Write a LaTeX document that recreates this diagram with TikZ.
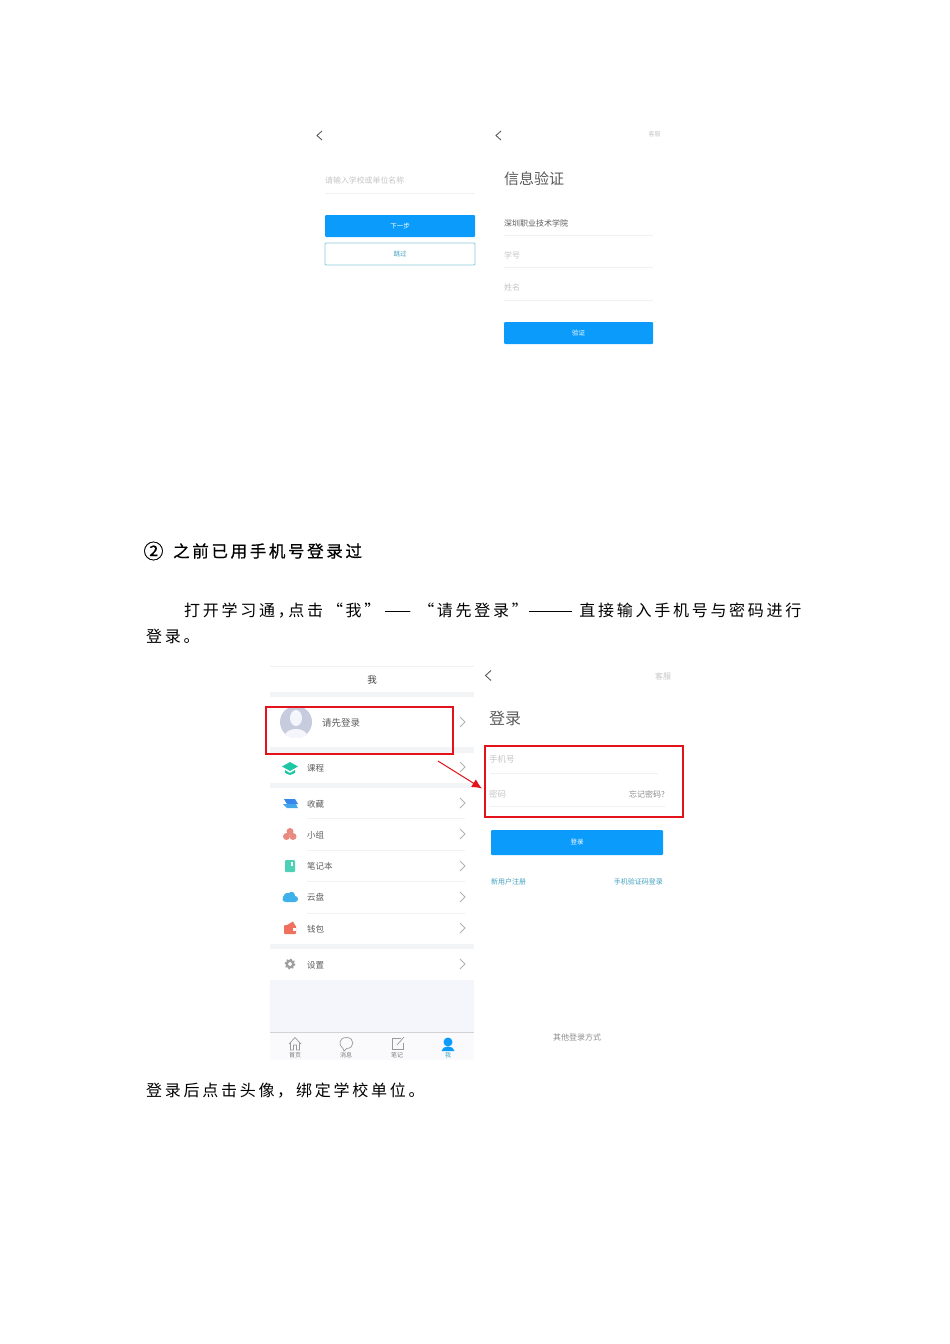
\documentclass[tikz,border=0pt]{standalone}
\usepackage{fontspec}
\usepackage{graphicx}
\setmainfont{Noto Sans CJK SC}
\newfontfamily\bodyfont[LetterSpace=17]{Noto Sans CJK SC}
\newfontfamily\headfont[LetterSpace=16,FakeBold=0.7]{Noto Sans CJK SC}
\newcommand{\cjksize}[1]{\fontsize{#1}{#1}\selectfont}
\usepackage{tikz}
\usetikzlibrary{arrows.meta,positioning}
\usetikzlibrary{shapes.geometric,calc}

\definecolor{btnblue}{HTML}{0A9BFB}
\definecolor{linkblue}{HTML}{3F9FBF}
\definecolor{hint}{HTML}{C4C4C4}
\definecolor{label}{HTML}{5A5A5A}
\definecolor{band}{HTML}{F3F4F6}
\definecolor{panel}{HTML}{F4F6FB}
\definecolor{tabbar}{HTML}{FAFAFC}
\definecolor{hair}{HTML}{F0F1F3}
\definecolor{redmark}{HTML}{E3121B}
\definecolor{avatar}{HTML}{C6CCDD}
\definecolor{icongreen}{HTML}{1FC6A4}
\definecolor{iconblue}{HTML}{45A8E8}
\definecolor{iconpink}{HTML}{E88A80}
\definecolor{iconred}{HTML}{F07060}

\tikzset{
	bodytext/.style={inner sep=0pt, anchor=west, font=\bodyfont\cjksize{16}},
	hinttext/.style={inner sep=0pt, text=hint, font=\cjksize{#1}},
	hinttext/.default=8,
	labeltext/.style={inner sep=0pt, text=label, font=\cjksize{#1}},
	labeltext/.default=8,
	rowtext/.style={inner sep=0pt, anchor=west, text=label, font=\cjksize{8.5}},
	tabtext/.style={inner sep=0pt, text=label!80, font=\cjksize{6}},
	bluebtn/.style={fill=btnblue, rounded corners=1pt, inner sep=0pt, text=white, font=\cjksize{6.5}},
	markbox/.style={draw=redmark, line width=1.1pt, inner sep=0pt, fill=none},
	backarrow/.style={draw=label, line width=0.9pt},
	chevron/.style={draw=gray!60, line width=0.8pt},
	hairline/.style={draw=hair, line width=0.7pt},
	tabicon/.style={draw=gray!80, line width=0.7pt}
}

\begin{document}
\begin{tikzpicture}[x=1pt,y=-1pt]
		\useasboundingbox (0,0) rectangle (950,1344);
		
		% upper two screens
		\draw[backarrow] (322,131) -- (317,135.5) -- (322,140);
		\node[hinttext=7.9, anchor=west] (schoolhint) at (325,180.5) {请输入学校或单位名称};
		\draw[hairline] (325,193) -- (475,193);
		\node[bluebtn, minimum width=150pt, minimum height=22pt] (nextbtn) at (400,226) {下一步};
		\node[draw=linkblue!60, line width=0.8pt, rounded corners=1pt, inner sep=0pt, minimum width=150pt, minimum height=22pt, text=linkblue, font=\cjksize{6.5}] (skipbtn) at (400,254) {跳过};
		
		\draw[backarrow] (501,131) -- (496,135.5) -- (501,140);
		\node[hinttext=6] (servicetop) at (654.5,134.5) {客服};
		\node[labeltext=15, anchor=west] (verifytitle) at (504,178.5) {信息验证};
		\node[labeltext=8, anchor=west] (schoolname) at (504,223) {深圳职业技术学院};
		\draw[hairline] (504,235) -- (653,235);
		\node[hinttext=8, anchor=west] (idhint) at (504,255) {学号};
		\draw[hairline] (504,267.5) -- (653,267.5);
		\node[hinttext=8, anchor=west] (namehint) at (504,287.5) {姓名};
		\draw[hairline] (504,300.5) -- (653,300.5);
		\node[bluebtn, minimum width=149pt, minimum height=22pt] (verifybtn) at (578.5,333) {验证};
		
		% text
		\node[inner sep=0pt, font=\headfont\cjksize{20}] (circledtwo) at (153.5,551) {②};
		\node[inner sep=0pt, anchor=west, font=\headfont\cjksize{16.5}] (headline) at (173,551) {之前已用手机号登录过};
		\node[bodytext] (lineone) at (184,611) {打开学习通，\hspace{-5.5pt}点击\hspace{4pt}“我”\hspace{4pt}——\hspace{7pt}“请先登录”\scalebox{1.7}[1]{——}\hspace{6pt}直接输入手机号与密码进行};
		\node[bodytext] (linetwo) at (146,636) {登录。};
		\node[bodytext] (linethree) at (146,1091) {登录后点击头像，\hspace{3pt}绑定学校单位。};
		
		% me screen
		\fill[panel] (270,980) rectangle (474,1032);
		\fill[tabbar] (270,1032) rectangle (474,1060);
		\fill[band] (270,692) rectangle (474,697);
		\fill[band] (270,747) rectangle (474,753);
		\fill[band] (270,783) rectangle (474,788);
		\fill[band] (270,944) rectangle (474,949);
		\draw[hairline] (270,666) -- (474,666);
		\draw[hairline] (307,818) -- (465,818);
		\draw[hairline] (307,850) -- (465,850);
		\draw[hairline] (307,881.5) -- (465,881.5);
		\draw[hairline] (307,913) -- (465,913);
		\draw[draw=gray!35, line width=0.6pt] (270,1032) -- (474,1032);
		
		\node[inner sep=0pt, text=black!75, font=\cjksize{9.5}] (metitle) at (372,680) {我};
		
		\fill[avatar] (296,722) circle (16);
		\fill[panel] (296,718) ellipse (6 and 8);
		\fill[panel] (285,735) .. controls (287,727) and (305,727) .. (307,735) .. controls (303,739) and (289,739) .. (285,735);
		\node[labeltext=9.5, anchor=west] (pleaselogin) at (322,723) {请先登录};
		
		\fill[icongreen] (282,766.5) -- (290,762) -- (298,766.5) -- (290,771) -- cycle;
		\fill[icongreen] (285,770) -- (290,773) -- (295,770) -- (295,773) -- (290,775) -- (285,773) -- cycle;
		\node[rowtext] (course) at (307,768) {课程};
		
		\fill[iconblue!80!blue] (284,799) -- (295,799) -- (298,804) -- (287,804) -- cycle;
		\fill[iconblue] (283,804) -- (296,804) -- (298,808) -- (287,808) -- cycle;
		\node[rowtext] (favorite) at (307,804) {收藏};
		
		\fill[iconpink] (290,831.5) circle (3.5);
		\fill[iconpink] (286.5,836.5) circle (3.5);
		\fill[iconpink] (293,836.5) circle (3.5);
		\node[rowtext] (group) at (307,835) {小组};
		
		\fill[icongreen!80, rounded corners=1pt] (285,860) rectangle (295,872);
		\fill[white] (291,862) rectangle (293,866);
		\node[rowtext] (notebook) at (307,866.5) {笔记本};
		
		\fill[iconblue!90!cyan] (283,897) .. controls (285,892) and (288,893) .. (289,893) .. controls (292,890) and (295,893) .. (295,896) .. controls (299,896) and (299,902) .. (295,902) -- (286,902) .. controls (282,902) and (282,898) .. (283,897);
		\node[rowtext] (clouddisk) at (307,897.5) {云盘};
		
		\fill[iconred, rounded corners=1pt] (284,925) rectangle (296,934);
		\fill[iconred] (287,925) -- (293,921.5) -- (295,925) -- cycle;
		\fill[white] (293,928) rectangle (296,931);
		\node[rowtext] (wallet) at (307,929) {钱包};
		
		\fill[gray!75, even odd rule] (290,964) circle (4.5) (290,964) circle (2);
		\draw[gray!75, line width=1.5pt, dash pattern=on 1.6pt off 2.1pt] (290,964) circle (4.8);
		\node[rowtext] (settings) at (307,965) {设置};
		
		\draw[chevron] (460,717) -- (465,722) -- (460,727);
		\draw[chevron] (460,762) -- (465,767) -- (460,772);
		\draw[chevron] (460,798) -- (465,803) -- (460,808);
		\draw[chevron] (460,829) -- (465,834) -- (460,839);
		\draw[chevron] (460,861) -- (465,866) -- (460,871);
		\draw[chevron] (460,892) -- (465,897) -- (460,902);
		\draw[chevron] (460,923) -- (465,928) -- (460,933);
		\draw[chevron] (460,959) -- (465,964) -- (460,969);
		
		% tab bar
		\draw[tabicon] (289,1044) -- (295,1037.5) -- (301,1044) (290.5,1043) -- (290.5,1050) -- (293.5,1050) -- (293.5,1045) -- (296.5,1045) -- (296.5,1050) -- (299.5,1050) -- (299.5,1043);
		\node[tabtext] (tabhome) at (295,1055.5) {首页};
		\draw[tabicon] (343,1048.5) .. controls (338,1045) and (339,1037.5) .. (346.5,1037.5) .. controls (355,1037.5) and (355,1048.5) .. (346.5,1048.5) -- (344,1051) -- cycle;
		\node[tabtext] (tabmsg) at (346,1055.5) {消息};
		\draw[tabicon] (401,1038) -- (392,1038) -- (392,1049.5) -- (403,1049.5) -- (403,1043);
		\draw[tabicon] (397,1045) -- (404,1037);
		\node[tabtext] (tabnote) at (397,1055.5) {笔记};
		\fill[btnblue] (448,1042) circle (4.5);
		\fill[btnblue] (441.5,1051) .. controls (442,1045) and (454,1045) .. (454.5,1051) -- cycle;
		\node[tabtext, text=linkblue] (tabme) at (448,1055.5) {我};
		
		% login screen
		\draw[backarrow] (491,670.5) -- (485.5,675.5) -- (491,680.5);
		\node[hinttext=8] (servicelow) at (663,676) {客服};
		\node[labeltext=16, anchor=west] (logintitle) at (489,718) {登录};
		\node[hinttext=8.5, anchor=west] (phonehint) at (489,759) {手机号};
		\draw[hairline] (490,773) -- (658,773);
		\node[hinttext=8.5, anchor=west] (pwdhint) at (489,794) {密码};
		\node[hinttext=8, text=gray!90, anchor=east] (forgetpwd) at (665,794) {忘记密码?};
		\draw[hairline] (490,806.5) -- (665,806.5);
		\node[bluebtn, minimum width=172pt, minimum height=25pt] (loginbtn) at (577,842.5) {登录};
		\node[inner sep=0pt, anchor=west, text=linkblue, font=\cjksize{7}] (newuser) at (491,881.5) {新用户注册};
		\node[inner sep=0pt, anchor=east, text=linkblue, font=\cjksize{7}] (smslogin) at (663,881.5) {手机验证码登录};
		\node[hinttext=8, text=gray!90] (otherlogin) at (577,1037.5) {其他登录方式};
		
		% red marks
		\node[markbox, minimum width=187pt, minimum height=47pt] (loginmark) at (359.5,730.5) {};
		\node[markbox, minimum width=198pt, minimum height=71pt] (fieldmark) at (584,781.5) {};
		\coordinate (arrowfrom) at (438,761);
		\coordinate (arrowto) at (482,788.5);
		\draw[color=redmark, -{Latex[length=10pt,width=9pt]}, line width=1pt] (arrowfrom) -- (arrowto);
		
		\end{tikzpicture}
\end{document}
